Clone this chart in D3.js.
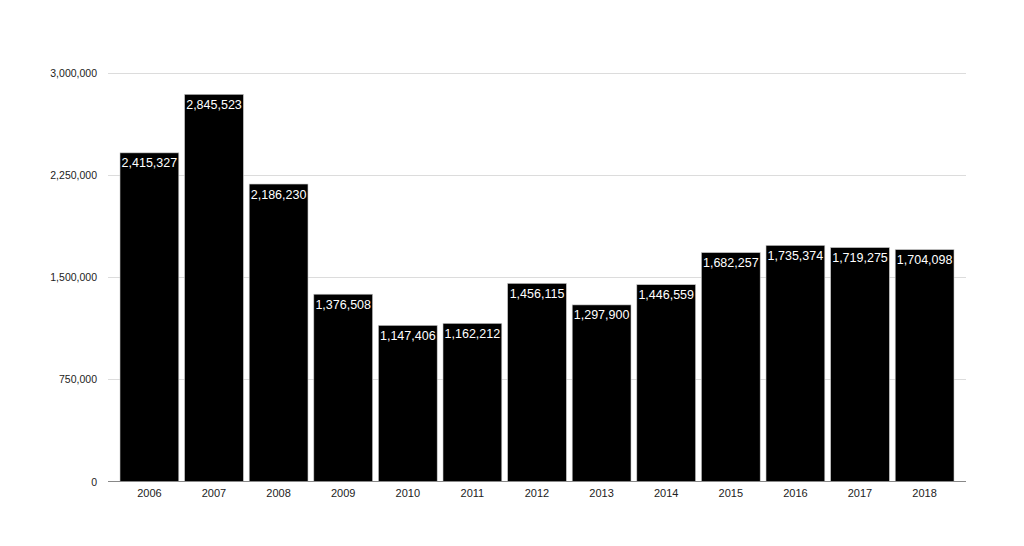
<!DOCTYPE html>
<html><head><meta charset="utf-8">
<script src="https://cdn.jsdelivr.net/npm/d3@7"></script>
<style>body{margin:0;background:#fff}svg{display:block}</style>
</head><body>
<svg id="c" width="1024" height="546"></svg>
<script>
const years = ["2006","2007","2008","2009","2010","2011","2012","2013","2014","2015","2016","2017","2018"];
const values = [2415327,2845523,2186230,1376508,1147406,1162212,1456115,1297900,1446559,1682257,1735374,1719275,1704098];
const yTicks = [0,750000,1500000,2250000,3000000];

(function(){
const svg = d3.select("#c");
const mLeft = 108, mRight = 966, mTop = 73.3, mBottom = 481.5;
const x = d3.scaleBand().domain(years).range([120, 954]).paddingInner(0.09);
const y = d3.scaleLinear().domain([0,3000000]).range([mBottom, mTop]);
const fmt = d3.format(",");
const font = "'Liberation Sans', Arial, Helvetica, sans-serif";

svg.append("g").selectAll("line").data(yTicks.filter(d=>d>0)).join("line")
  .attr("x1", mLeft).attr("x2", mRight)
  .attr("y1", d=>Math.round(y(d))+0.5).attr("y2", d=>Math.round(y(d))+0.5)
  .attr("stroke", "#dcdcdc").attr("stroke-width", 1);

svg.append("g").selectAll("text").data(yTicks).join("text")
  .attr("x", 97).attr("y", d=>y(d)+4)
  .attr("text-anchor", "end").attr("font-family", font).attr("font-size", 10.5)
  .attr("fill", "#222").text(d=>fmt(d));

svg.append("g").selectAll("rect").data(years).join("rect")
  .attr("x", d=>x(d)).attr("width", x.bandwidth())
  .attr("y", (d,i)=>y(values[i])).attr("height", (d,i)=>mBottom - y(values[i]))
  .attr("fill", "#000").attr("stroke", "#c8c8c8").attr("stroke-width", 0.6);

svg.append("line").attr("x1", mLeft).attr("x2", mRight)
  .attr("y1", mBottom).attr("y2", mBottom).attr("stroke", "#888").attr("stroke-width", 1);

svg.append("g").selectAll("text").data(years).join("text")
  .attr("x", d=>x(d)+x.bandwidth()/2).attr("y", (d,i)=>y(values[i])+14.5)
  .attr("text-anchor", "middle").attr("font-family", font).attr("font-size", 12.5)
  .attr("fill", "#fff").text((d,i)=>fmt(values[i]));

svg.append("g").selectAll("text").data(years).join("text")
  .attr("x", d=>x(d)+x.bandwidth()/2).attr("y", 497)
  .attr("text-anchor", "middle").attr("font-family", font).attr("font-size", 11)
  .attr("fill", "#222").text(d=>d);
})();
</script>
</body></html>
